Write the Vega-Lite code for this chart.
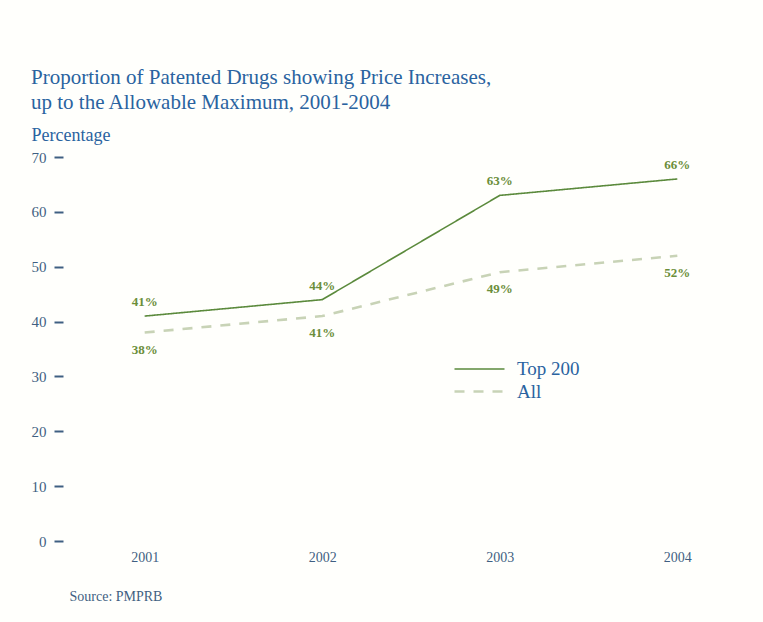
{
  "$schema": "https://vega.github.io/schema/vega-lite/v6.json",
  "width": 696,
  "height": 384,
  "autosize": "none",
  "padding": {"left": 63, "top": 157, "right": 4, "bottom": 81},
  "background": "#fffffc",
  "title": {
    "text": ["Proportion of Patented Drugs showing Price Increases,", "up to the Allowable Maximum, 2001-2004"],
    "anchor": "start",
    "frame": "group",
    "dx": -32,
    "offset": 13,
    "font": "Liberation Serif",
    "fontSize": 21,
    "fontWeight": "normal",
    "lineHeight": 25,
    "color": "#2a63a0"
  },
  "config": {
    "view": {"stroke": null},
    "font": "Liberation Serif"
  },
  "data": {
    "values": [
      {"year": "2001", "series": "Top 200", "value": 41, "label": "41%"},
      {"year": "2002", "series": "Top 200", "value": 44, "label": "44%"},
      {"year": "2003", "series": "Top 200", "value": 63, "label": "63%"},
      {"year": "2004", "series": "Top 200", "value": 66, "label": "66%"},
      {"year": "2001", "series": "All", "value": 38, "label": "38%"},
      {"year": "2002", "series": "All", "value": 41, "label": "41%"},
      {"year": "2003", "series": "All", "value": 49, "label": "49%"},
      {"year": "2004", "series": "All", "value": 52, "label": "52%"}
    ]
  },
  "encoding": {
    "x": {
      "field": "year",
      "type": "ordinal",
      "scale": {"type": "point", "padding": 0.46},
      "axis": {
        "title": "Source: PMPRB",
        "titleX": 6,
        "titleY": 59,
        "titleAlign": "left",
        "titleAnchor": "start",
        "titleBaseline": "alphabetic",
        "titleFont": "Liberation Serif",
        "titleFontSize": 14,
        "titleFontWeight": "normal",
        "titleColor": "#3f5f82",
        "labelAngle": 0,
        "labelFont": "Liberation Serif",
        "labelFontSize": 14,
        "labelColor": "#3f5f82",
        "labelPadding": 9,
        "ticks": false,
        "tickSize": 0,
        "domain": false,
        "grid": false
      }
    },
    "y": {
      "field": "value",
      "type": "quantitative",
      "scale": {"domain": [0, 70], "nice": false},
      "axis": {
        "title": "Percentage",
        "titleAngle": 0,
        "titleX": -32,
        "titleY": -17,
        "titleAlign": "left",
        "titleBaseline": "alphabetic",
        "titleFont": "Liberation Serif",
        "titleFontSize": 18,
        "titleFontWeight": "normal",
        "titleColor": "#2a63a0",
        "values": [0, 10, 20, 30, 40, 50, 60, 70],
        "labelFont": "Liberation Serif",
        "labelFontSize": 15,
        "labelColor": "#3f5f82",
        "labelPadding": 8,
        "tickSize": 9,
        "tickWidth": 2,
        "tickColor": "#3f5f82",
        "domain": false,
        "grid": false
      }
    }
  },
  "layer": [
    {
      "mark": {"type": "line"},
      "encoding": {
        "color": {
          "field": "series",
          "type": "nominal",
          "scale": {"domain": ["Top 200", "All"], "range": ["#5b8a3c", "#c8d3b6"]},
          "legend": {
            "title": null,
            "orient": "none",
            "legendX": 405,
            "legendY": 201,
            "symbolType": "M-2.5,0H2.5",
            "symbolSize": 400,
            "symbolStrokeWidth": 2,
            "labelFont": "Liberation Serif",
            "labelFontSize": 19,
            "labelColor": "#2a63a0",
            "labelOffset": 26,
            "rowPadding": 1
          }
        },
        "strokeDash": {
          "field": "series",
          "type": "nominal",
          "scale": {"domain": ["Top 200", "All"], "range": [[1, 0], [10, 9]]}
        },
        "strokeWidth": {
          "field": "series",
          "type": "nominal",
          "scale": {"domain": ["Top 200", "All"], "range": [1.6, 2.6]},
          "legend": null
        }
      }
    },
    {
      "transform": [{"filter": "datum.series === 'Top 200'"}],
      "mark": {"type": "text", "dy": -14, "font": "Liberation Serif", "fontSize": 13, "fontWeight": "bold", "color": "#6b8e3a"},
      "encoding": {"text": {"field": "label", "type": "nominal"}}
    },
    {
      "transform": [{"filter": "datum.series === 'All'"}],
      "mark": {"type": "text", "dy": 17, "font": "Liberation Serif", "fontSize": 13, "fontWeight": "bold", "color": "#6b8e3a"},
      "encoding": {"text": {"field": "label", "type": "nominal"}}
    }
  ]
}
